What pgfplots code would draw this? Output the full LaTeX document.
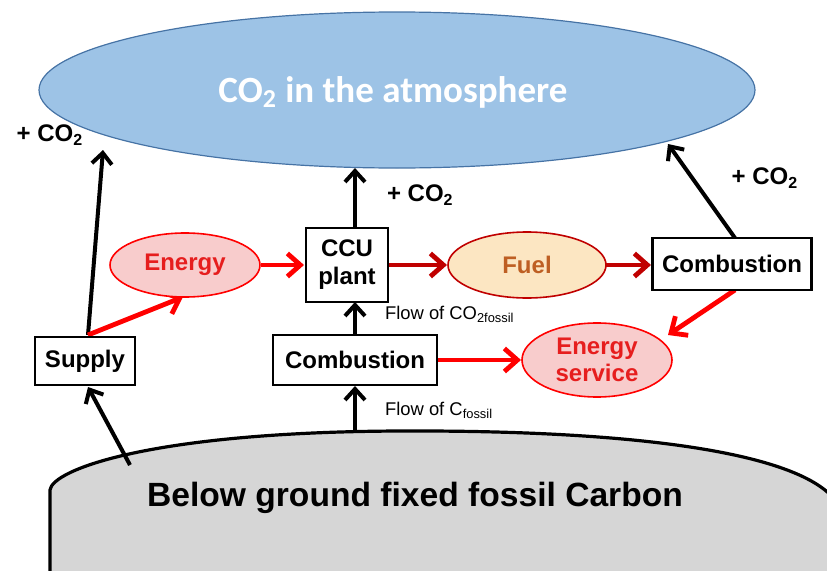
\documentclass[border=0pt]{standalone}
\usepackage{pgfplots}
\pgfplotsset{compat=1.18}
\usepackage{fontspec}
\setmainfont{Liberation Sans}
\newfontfamily\calibri{Carlito}
\usetikzlibrary{arrows.meta,shapes.geometric}
\definecolor{atmfill}{RGB}{157,195,230}
\definecolor{atmdraw}{RGB}{70,115,165}
\definecolor{pinkfill}{RGB}{248,204,204}
\definecolor{fuelfill}{RGB}{252,230,194}
\definecolor{myred}{RGB}{255,0,0}
\definecolor{darkred}{RGB}{192,0,0}
\definecolor{fueltext}{RGB}{190,95,35}
\definecolor{energytext}{RGB}{230,30,30}
\definecolor{groundfill}{RGB}{214,214,214}
\begin{document}
\begin{tikzpicture}
\begin{axis}[width=413.5pt,height=285pt,scale only axis,
  xmin=0,xmax=827,ymin=0,ymax=570,hide axis,clip=true]
\path (axis cs:0,0) rectangle (axis cs:827,570);
% ground
\draw[fill=groundfill,draw=black,line width=1.6pt]
  (axis cs:50,-10) -- (axis cs:50,80) .. controls (axis cs:52,100) and (axis cs:150,138) .. (axis cs:400,139)
  .. controls (axis cs:650,140) and (axis cs:800,115) .. (axis cs:835,70) -- (axis cs:835,-10) -- cycle;
\node[font=\bfseries\fontsize{16.8}{18}\selectfont] at (axis cs:415,72) {Below ground fixed fossil Carbon};
% atmosphere
\node[ellipse,fill=atmfill,draw=atmdraw,line width=0.6pt,minimum width=358pt,minimum height=78pt,inner sep=0pt] at (axis cs:397,480) {};
\node[text=white,font=\calibri\bfseries\fontsize{18.5}{21}\selectfont] at (axis cs:393,478) {CO\textsubscript{2} in the atmosphere};
% black arrows
\tikzset{barr/.style={black,line width=2pt,-{Straight Barb[length=5.5pt,width=10pt]}},
         rarr/.style={line width=2.4pt,-{Straight Barb[length=6.5pt,width=11.5pt]}}}
\addplot[barr] coordinates {(88,235) (103,420)};
\addplot[barr] coordinates {(130,105) (88,183)};
\addplot[barr] coordinates {(355,139) (355,184)};
\addplot[barr] coordinates {(355,235) (355,268)};
\addplot[barr] coordinates {(355,342) (355,402)};
\addplot[barr] coordinates {(735,332) (668,426)};
% red arrows
\addplot[rarr,myred] coordinates {(88,235) (183,273)};
\addplot[rarr,myred] coordinates {(261,305) (304,305)};
\addplot[rarr,darkred] coordinates {(389,305) (447,305)};
\addplot[rarr,darkred] coordinates {(606,305) (651,305)};
\addplot[rarr,myred] coordinates {(735,280) (668,235)};
\addplot[rarr,myred] coordinates {(437,210) (521,210)};
% boxes
\tikzset{box/.style={draw=black,fill=white,line width=1.1pt,inner sep=0pt,align=center,font=\bfseries\fontsize{12}{14}\selectfont}}
\node[box,minimum width=50pt,minimum height=24pt] at (axis cs:85,209) {Supply};
\node[box,minimum width=41pt,minimum height=37pt] at (axis cs:347,305) {CCU\\plant};
\node[box,minimum width=82pt,minimum height=25pt] at (axis cs:355,210) {Combustion};
\node[box,minimum width=79.5pt,minimum height=26pt] at (axis cs:732,306) {Combustion};
% ellipses
\node[ellipse,fill=pinkfill,draw=myred,line width=0.8pt,minimum width=75pt,minimum height=32pt,inner sep=0pt,text=energytext,font=\bfseries\fontsize{12}{14}\selectfont] at (axis cs:185,305) {Energy};
\node[ellipse,fill=fuelfill,draw=darkred,line width=0.8pt,minimum width=79pt,minimum height=33pt,inner sep=0pt,text=fueltext,font=\bfseries\fontsize{12}{14}\selectfont] at (axis cs:527,305) {Fuel};
\node[ellipse,fill=pinkfill,draw=myred,line width=0.8pt,minimum width=75pt,minimum height=37pt,inner sep=0pt,align=center,text=energytext,font=\bfseries\fontsize{12}{13.5}\selectfont] at (axis cs:597,210) {Energy\\service};
% labels
\node[font=\bfseries\fontsize{12}{14}\selectfont] at (axis cs:50,435) {+ CO\textsubscript{2}};
\node[anchor=west,font=\bfseries\fontsize{12}{14}\selectfont] at (axis cs:380,375) {+ CO\textsubscript{2}};
\node[font=\bfseries\fontsize{12}{14}\selectfont] at (axis cs:765,392) {+ CO\textsubscript{2}};
\node[anchor=west,font=\fontsize{9.2}{11}\selectfont] at (axis cs:378,256) {Flow of CO\textsubscript{2fossil}};
\node[anchor=west,font=\fontsize{9.2}{11}\selectfont] at (axis cs:378,160) {Flow of C\textsubscript{fossil}};
\end{axis}
\end{tikzpicture}
\end{document}
